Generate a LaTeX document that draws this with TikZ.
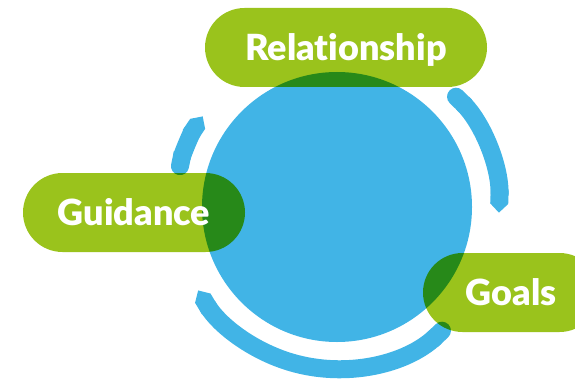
\documentclass[tikz,border=0pt]{standalone}
\usepackage{fontspec}
\newfontfamily\pillfont{Lato}[UprightFont=* Black, Ligatures={NoCommon,NoContextual,NoRare}, Contextuals=NoAlternate]
\usepackage{xcolor}
\usetikzlibrary{arrows.meta}
\definecolor{hubblue}{HTML}{41B4E6}
\definecolor{pillgreen}{HTML}{9AC31C}
\tikzstyle{hub} = [circle, fill=hubblue, minimum size=270pt, inner sep=0pt]
\tikzstyle{ring} = [draw=hubblue, line width=18pt, arrows={Round Cap-Triangle Cap}]
\tikzstyle{pill} = [rectangle, rounded corners=39.5pt, minimum height=79pt, inner sep=0pt, fill=pillgreen]
\tikzstyle{pilltext} = [text=white, font=\pillfont\fontsize{36}{36}\selectfont, text height=26pt, text depth=0pt, inner sep=0pt]

\begin{document}
\begin{tikzpicture}[x=1pt, y=1pt]
    \useasboundingbox (0,0) rectangle (575,381);
    \clip (0,0) rectangle (575,381);
    \node (hub) [hub] at (337,174) {};
    % cycle arcs round the hub
    \draw [ring] (hub.center) ++(46:162) arc[start angle=46, end angle=-2, radius=162];
    \draw [ring] (hub.center) ++(-46.5:162) arc[start angle=-46.5, end angle=-149, radius=162];
    \draw [ring] (hub.center) ++(168.6:162) arc[start angle=168.6, end angle=146, radius=162];
    \begin{scope}[blend mode=multiply]
        \node (relationship) [pill, minimum width=282pt] at (346,333.5) {};
        \node (guidance) [pill, minimum width=222pt] at (134,168.5) {};
        \node (goals) [pill, minimum width=176pt] at (511,88.5) {};
    \end{scope}
    \node [pilltext] at (relationship) {Relat\kern0pt ionship};
    \node [pilltext] at (guidance) {Guidance};
    \node [pilltext] at (goals) {Goals};
\end{tikzpicture}
\end{document}
